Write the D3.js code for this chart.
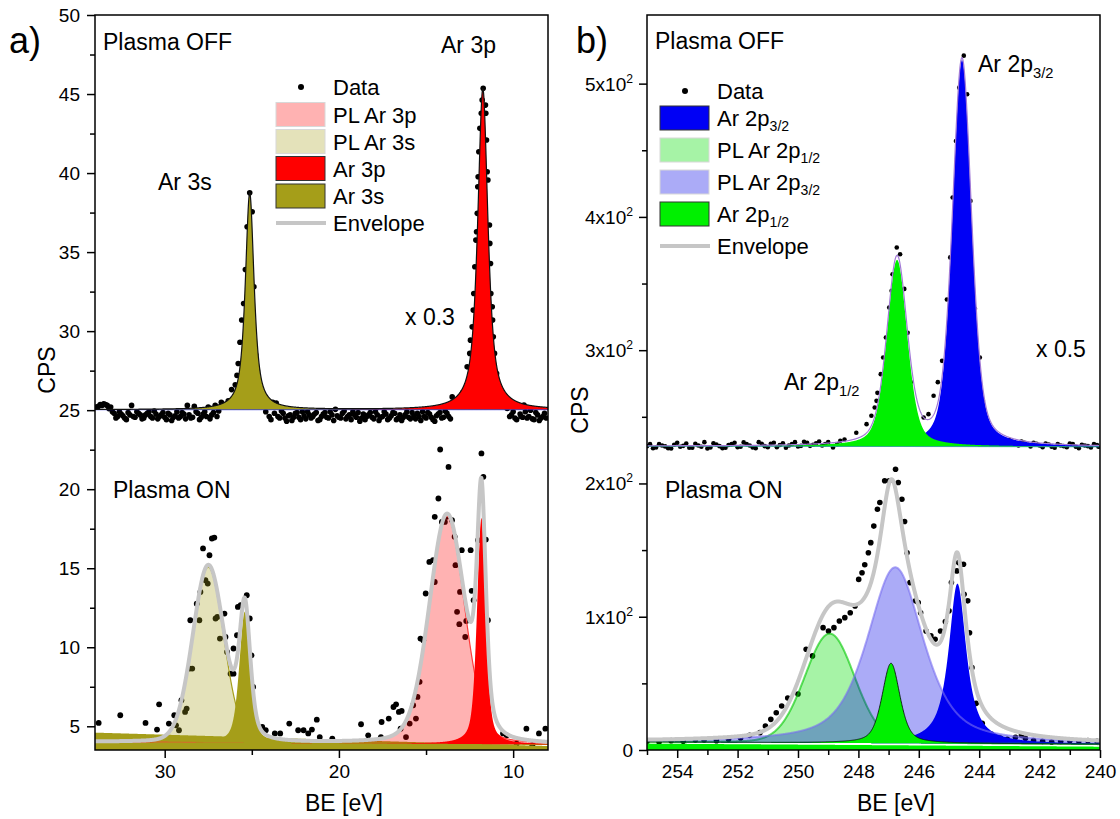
<!DOCTYPE html>
<html lang="en">
<head>
<meta charset="UTF-8">
<title>Ar XPS, plasma off / on</title>
<script src="https://cdnjs.cloudflare.com/ajax/libs/d3/7.8.5/d3.min.js"></script>
<style>
  body { margin: 0; background: #fff; }
  svg { display: block; font-family: Arial, "Liberation Sans", sans-serif; }
</style>
</head>
<body>
<svg id="chart" width="1120" height="819"></svg>
<script>
// ---------- data: [BE (eV), CPS] ----------
const dataA_off = [
  [33.9,25.2],[33.7,25.35],[33.5,25.4],[33.3,25.3],[33.1,25.2],[32.9,24.8],[32.7,24.6],[32.5,24.75],[32.3,24.5],[32.1,24.85],
  [31.9,25.3],[31.7,24.55],[31.5,24.8],[31.3,24.45],[31.1,24.7],[30.9,24.9],[30.7,24.5],[30.5,24.75],[30.3,24.6],[30.1,24.85],
  [29.9,24.4],[29.7,24.7],[29.5,24.55],[29.3,24.9],[29.1,24.6],[28.9,24.75],[28.7,25.3],[28.5,24.5],[28.3,25.25],[28.1,24.8],
  [27.9,24.55],[27.7,24.9],[27.5,25.2],[27.3,24.7],[27.1,25.3],[26.9,24.95],[26.75,25.5],[26.55,25.35],[26.35,25.6],[26.16,26.3],
  [25.95,26.6],[25.85,27.2],[25.78,27.95],[25.68,29.3],[25.58,30.7],[25.47,31.75],[25.37,33.9],[25.27,36.6],[25.12,38.75],[24.98,37.55],
  [24.88,32.8],[24.78,28.5],[24.68,27.5],[24.55,26.1],[24.4,25.4],[24.2,24.9],[24.0,24.6],[23.8,25.5],[23.6,25.45],[23.4,24.5],
  [23.2,24.8],[23.0,24.3],[22.8,24.7],[22.6,24.55],[22.4,24.85],[22.2,24.4],[22.0,24.65],[21.8,24.9],[21.6,24.5],[21.4,24.75],
  [21.2,24.35],[21.0,24.6],[20.8,24.85],[20.6,24.5],[20.4,24.7],[20.2,25.05],[20.0,24.55],[19.8,24.8],[19.6,24.45],[19.4,24.7],
  [19.2,24.9],[19.0,24.55],[18.8,24.3],[18.6,24.75],[18.4,24.6],[18.2,24.85],[18.0,24.45],[17.8,24.7],[17.6,24.55],[17.4,24.9],
  [17.2,24.4],[17.0,24.65],[16.8,24.8],[16.6,24.5],[16.4,24.35],[16.2,24.7],[16.0,24.55],[15.8,24.85],[15.6,24.45],[15.4,24.6],
  [15.2,24.9],[15.0,24.5],[14.8,24.75],[14.6,24.4],[14.4,24.65],[14.2,24.85],[14.0,24.55],[13.8,24.8],[13.5,25.84],[13.3,25.3],
  [13.1,25.6],[12.9,26.1],[12.64,27.74],[12.49,28.59],[12.45,29.43],[12.35,30.27],[12.29,31.33],[12.26,32.38],[12.2,34.07],[12.14,35.76],
  [12.1,36.29],[12.06,37.45],[12.03,39.13],[12.01,39.77],[11.97,41.35],[11.91,42.83],[11.83,43.78],[11.78,44.62],[11.72,45.36],[11.59,44.3],
  [11.57,43.78],[11.53,42.09],[11.49,40.08],[11.45,39.56],[11.36,36.71],[11.34,35.55],[11.3,34.28],[11.28,32.38],[11.2,31.54],[11.18,30.7],
  [11.14,29.64],[11.07,28.59],[10.95,27.32],[10.76,26.06],[10.55,25.4],[10.34,25.11],[10.1,24.7],[9.9,24.5],[9.76,25.32],[9.55,24.6],
  [9.38,25.32],[9.2,24.5],[9.0,25.0],[8.8,24.4],[8.6,24.7],[8.4,24.5],[8.2,24.8],
  [33.8,25.25],[33.6,25.3],[33.4,25.35],[33.2,25.1],[33.0,24.9],[32.8,24.5],[32.6,24.9],[32.4,24.65],[32.2,24.4],[32.0,24.7],
  [31.8,24.6],[31.6,24.9],[31.4,24.7],[31.2,24.5],[31.0,24.8],[30.8,24.6],[30.6,24.95],[30.4,24.45],[30.2,24.7],[30.0,24.55],
  [29.8,24.8],[29.6,24.35],[29.4,24.65],[29.2,24.5],[29.0,24.85],[28.8,24.45],[28.6,24.7],[28.4,24.55],[28.2,24.9],[28.0,24.4],
  [27.8,24.75],[27.6,24.6],[27.4,24.45],[27.2,24.85],[27.0,24.6],[23.9,24.4],[23.7,24.8],[23.5,24.6],[23.3,24.95],[23.1,24.5],
  [22.9,24.65],[22.7,24.35],[22.5,24.8],[22.3,24.55],[22.1,24.9],[21.9,24.45],[21.7,24.7],[21.5,24.6],[21.3,24.85],[21.1,24.4],
  [20.9,24.75],[20.7,24.55],[20.5,24.9],[20.3,24.35],[20.1,24.65],[19.9,24.5],[19.7,24.95],[19.5,24.6],[19.3,24.4],[19.1,24.7],
  [18.9,24.85],[18.7,24.5],[18.5,24.4],[18.3,24.7],[18.1,24.55],[17.9,24.9],[17.7,24.35],[17.5,24.6],[17.3,24.75],[17.1,24.5],
  [16.9,24.85],[16.7,24.4],[16.5,24.7],[16.3,24.55],[16.1,24.9],[15.9,24.45],[15.7,24.65],[15.5,24.8],[15.3,24.35],[15.1,24.6],
  [14.9,24.85],[14.7,24.55],[14.5,24.3],[14.3,24.75],[14.1,24.5],[13.9,24.95],[13.7,24.6],[13.6,24.45],[10.2,24.6],[10.0,24.9],
  [9.8,24.4],[9.6,24.75],[9.45,24.55],[9.3,24.9],[9.1,24.6],[8.9,24.45],[8.7,24.85],[8.5,24.35],[8.3,24.6],[8.1,24.5]
];

const dataA_on = [
  [33.79,5.21],[33.5,4.0],[33.2,3.9],[32.55,5.7],[32.0,3.8],[31.5,4.1],[31.1,5.21],[30.8,3.9],[30.44,4.79],[30.32,6.39],
  [30.0,4.2],[29.76,5.17],[29.45,5.7],[29.35,5.06],[29.18,4.75],[29.04,6.65],[28.83,5.91],[28.74,6.12],[28.57,8.65],[28.42,8.65],
  [28.53,11.71],[28.16,12.76],[28.01,11.71],[27.95,13.5],[27.8,16.25],[27.66,14.24],[27.53,14.03],[27.43,15.82],[27.29,16.88],[27.15,16.94],
  [27.08,11.82],[26.98,11.92],[26.83,10.55],[26.57,12.13],[26.51,10.65],[26.42,9.7],[26.22,8.33],[26.05,8.33],[26.05,9.92],[25.85,10.76],
  [25.8,12.55],[25.64,12.66],[25.29,13.29],[25.12,11.82],[25.02,9.49],[24.92,7.49],[24.86,5.7],[24.77,4.85],[24.4,4.96],[24.2,4.75],
  [23.68,4.55],[23.37,4.55],[22.85,5.17],[22.34,4.75],[22.03,4.75],[21.76,4.55],[21.55,4.79],[21.27,5.42],[21.1,4.32],[20.38,4.22],
  [19.8,3.9],[19.2,4.0],[18.73,5.13],[18.32,4.43],[17.59,4.32],[17.55,5.27],[17.14,5.49],[16.87,6.22],[16.72,6.39],[16.56,5.91],
  [16.46,4.85],[16.4,5.97],[16.15,4.32],[15.94,5.17],[15.74,6.33],[15.58,5.49],[15.49,6.86],[15.37,7.81],[15.32,10.55],[15.16,10.44],
  [15.02,13.4],[14.81,15.4],[14.6,15.51],[14.5,14.13],[14.5,18.25],[14.29,19.41],[14.19,22.51],[14.09,17.93],[13.92,17.93],[13.82,18.25],
  [13.71,21.41],[13.51,18.04],[13.36,16.99],[13.31,15.19],[13.22,12.24],[13.09,11.46],[13.05,13.5],[12.95,16.14],[12.75,10.65],[12.69,11.66],
  [12.44,16.14],[12.38,13.57],[12.27,12.98],[12.02,16.77],[11.82,22.26],[11.71,20.78],[11.57,16.81],[11.45,11.71],[10.58,4.55],[10.37,4.43],
  [9.8,3.9],[9.24,4.85],[8.9,3.8],[8.52,4.55],[8.15,4.85]
];

const dataB_off = [
  [254.9,229.5],[254.7,227.0],[254.5,228.5],[254.3,226.5],[254.1,229.0],[253.9,227.5],[253.7,230.0],[253.5,226.8],[253.3,228.5],[253.1,231.0],
  [252.9,227.0],[252.7,229.2],[252.5,226.5],[252.3,228.8],[252.1,230.5],[251.9,227.5],[251.7,229.5],[251.5,227.0],[251.3,231.0],[251.1,228.0],
  [250.9,229.8],[250.7,227.2],[250.5,230.2],[250.3,228.5],[250.1,231.0],[249.9,228.2],[249.7,230.5],[249.5,229.0],[249.3,231.5],[249.1,229.5],
  [248.84,227],[248.46,233],[248.07,238],[247.73,244.5],[247.57,250.8],[247.46,257],[247.4,262],[247.37,268],[247.26,282],[247.18,294.5],
  [247.09,309.5],[246.98,332],[246.9,344.6],[246.87,357],[246.73,377],[246.62,372],[246.48,346],[246.37,313],[246.27,276],[246.18,257],
  [246.07,247],[245.84,249.5],[245.68,252],[245.51,265.8],[245.37,276],[245.23,292],[245.07,338],[244.96,369.6],[244.88,414.6],[244.77,457],
  [244.66,497],[244.51,521],[244.4,492],[244.29,412],[244.14,331],[243.98,294.5],[243.88,262],[243.78,247],[243.67,239.5],[243.54,234.5],
  [243.4,233],[243.2,231],[243.0,232.5],[242.8,230],[242.6,231.5],[242.4,229],[242.2,230.5],[242.0,228.5],[241.8,230],[241.6,227.5],
  [241.4,229.5],[241.2,228],[241.0,230],[240.8,227.5],[240.6,229],[240.4,228],[240.2,229.5],[240.05,227.5],
  [255.0,228],[254.8,226.5],[254.6,229.5],[254.4,227.8],[254.2,226.2],[254.0,230.5],[253.8,228.2],[253.6,226.8],[253.4,229.8],[253.2,227.5],
  [253.0,226.2],[252.8,230.2],[252.6,228],[252.4,226.8],[252.2,229.5],[252.0,227.2],[251.8,230.8],[251.6,228.5],[251.4,226.5],[251.2,229.8],
  [251.0,227.2],[250.8,230.5],[250.6,228.8],[250.4,226.8],[250.2,229.5],[250.0,227.8],[249.8,231.2],[249.6,228.2],[249.4,230.2],[249.2,228.5],
  [249.0,231],[248.7,229.5],[248.6,232],[243.3,231.5],[243.1,229.8],[242.9,231.2],[242.7,228.5],[242.5,230.5],[242.3,227.8],[242.1,229.8],
  [241.9,227.2],[241.7,229.2],[241.5,226.8],[241.3,228.5],[241.1,227.2],[240.9,229.5],[240.7,226.5],[240.5,228.5],[240.3,227],[240.1,228.8]
];

const dataB_on = [
  [255.0,6.5],[254.6,6.0],[254.2,7.0],[253.8,6.5],[253.4,7.5],[253.11,7.5],[252.7,7.0],[252.3,8.0],[251.9,9.0],[251.6,11],
  [251.26,13],[251.08,18],[250.9,23],[250.72,28],[250.54,33],[250.34,39],[250.0,42],[249.73,75.6],[249.52,70.6],[249.17,91.8],
  [248.99,89.3],[248.81,91.8],[248.63,96.8],[248.45,99.3],[248.27,103],[248.11,108],[247.99,128],[247.88,133],[247.79,139],[247.67,148],
  [247.59,155.6],[247.49,168],[247.37,180.7],[247.29,185.7],[247.13,202],[246.98,202],[246.77,210.7],[246.68,200.7],[246.56,188.2],[246.47,171.4],
  [246.39,148],[246.29,125.6],[246.11,111.9],[246.02,110.6],[245.94,103],[245.76,89.3],[245.6,85.6],[245.46,83.1],[245.28,89.3],[245.12,96.3],
  [245.0,104.4],[244.92,125.6],[244.74,134.4],[244.68,140.6],[244.52,139.4],[244.5,116.9],[244.38,111.9],[244.32,88],[244.24,61.8],[244.1,35],
  [243.9,20],[243.6,12],[243.3,9],[243.07,8],[242.8,9.5],[242.6,11],[242.47,8.8],[242.2,7],[241.9,6.5],[241.6,6],
  [241.3,6.5],[241.0,7],[240.7,6.5],[240.4,7],[240.1,6.5]
];

// fitted components: [label, centre (eV), height (CPS), FWHM (eV), Lorentzian fraction]
const peaksA_off = [["Ar 3p", 11.74, 20.3, 0.7, 0.8], ["Ar 3s", 25.12, 13.7, 0.6, 0.8]];
const peaksA_on = [["PL Ar 3p", 13.8, 14.4, 2.4, 0.2], ["PL Ar 3s", 27.5, 11.1, 2.1, 0.1],
                   ["Ar 3p", 11.82, 14.3, 0.6, 0.5], ["Ar 3s", 25.4, 8.3, 0.75, 0.5]];
const peaksB_off = [["Ar 2p3/2", 244.57, 290, 0.75, 0.4], ["Ar 2p1/2", 246.72, 140, 0.8, 0.4]];
const peaksB_on = [["Ar 2p3/2", 244.72, 120, 0.7, 0.9], ["PL Ar 2p1/2", 248.95, 82, 1.95, 0.1],
                   ["PL Ar 2p3/2", 246.78, 132, 2.2, 0.6], ["Ar 2p1/2", 246.92, 60, 0.7, 0.5]];

// linear backgrounds, value at the left and right end of the BE axis
const bgA_off = [25.03, 25.03];
const bgA_on = [4.0, 3.85];
const bgB_off = [228, 227.5];
const bgB_on = [6.0, 4.3];
// filled band under the plasma-on spectra (left, right)
const bandA_on = [4.6, 3.75];
const bandB_on = [4.8, 2.5];

// axis ticks
const ticksAx = [30, 20, 10], minorAx = [25, 15];
const ticksAy = d3.range(5, 51, 5), minorAy = d3.range(7.5, 50, 5);
const ticksBx = d3.range(254, 239, -2), minorBx = d3.range(255, 240, -2);
const ticksBy = [0, 1, 2, 3, 4, 5], minorBy = d3.range(50, 500, 100);

// ---------- styles ----------
const compStyle = {
  "Ar 3p":       { fill: "#ff0000" },
  "Ar 3s":       { fill: "#a59e19" },
  "PL Ar 3p":    { fill: "rgba(255,0,0,0.3)", stroke: "#ff3b3b", sw: 1.2 },
  "PL Ar 3s":    { fill: "rgba(165,158,25,0.3)", stroke: "#a59e19", sw: 1.2 },
  "Ar 2p3/2":    { fill: "#0000f5" },
  "Ar 2p1/2":    { fill: "#00f000" },
  "PL Ar 2p1/2": { fill: "rgba(0,220,0,0.35)", stroke: "rgba(0,200,0,0.6)", sw: 2 },
  "PL Ar 2p3/2": { fill: "rgba(0,0,230,0.33)", stroke: "rgba(120,110,240,0.6)", sw: 2 }
};
const ENV = "#c6c6c6";

const svg = d3.select("#chart");

function pv(x, p) {
  const r2 = 4 * ((x - p[1]) / p[3]) ** 2;
  return p[2] * (p[4] / (1 + r2) + (1 - p[4]) * Math.exp(-Math.LN2 * r2));
}

// text with an optional trailing sub- or superscript
function richText(g, x, y, parts, size, anchor) {
  const t = g.append("text").attr("x", x).attr("y", y)
    .attr("font-size", size).attr("text-anchor", anchor || "start");
  parts.forEach(p => {
    if (typeof p === "string") { t.append("tspan").text(p); return; }
    t.append("tspan").attr("font-size", size * 0.64)
      .attr("dy", p.sub ? size * 0.24 : -size * 0.42).text(p.t);
  });
  return t;
}

function label(name) {
  // "Ar 2p3/2" -> ["Ar 2p", {t:"3/2", sub:true}]
  const m = name.match(/^(.*2p)(\d\/\d)$/);
  return m ? [m[1], { t: m[2], sub: true }] : [name];
}

function drawPanel(id, x, y, spectra, axes) {
  const g = svg.append("g");
  const [left, right] = x.range(), [bottom, top] = y.range();
  svg.append("clipPath").attr("id", "clip" + id).append("rect")
    .attr("x", left).attr("y", top).attr("width", right - left).attr("height", bottom - top);
  const plot = g.append("g").attr("clip-path", `url(#clip${id})`);
  const lo = Math.min(...x.domain()), hi = Math.max(...x.domain());
  const grid = d3.range(lo, hi + 0.005, 0.01);

  spectra.forEach(s => {
    plot.append("g").selectAll("circle").data(s.data).join("circle")
      .attr("cx", d => x(d[0])).attr("cy", d => y(d[1])).attr("r", s.r).attr("fill", "#000");
  });

  spectra.forEach(s => {
    const bg = d3.scaleLinear().domain(x.domain()).range(s.bg);
    if (s.band) {
      const band = d3.scaleLinear().domain(x.domain()).range(s.band);
      plot.append("path").datum(grid)
        .attr("d", d3.area().x(d => x(d)).y0(bottom).y1(d => y(band(d))))
        .attr("fill", s.bandColor);
    }
    s.peaks.forEach(p => {
      const st = compStyle[p[0]];
      plot.append("path").datum(grid)
        .attr("d", d3.area().x(d => x(d)).y0(d => y(bg(d))).y1(d => y(bg(d) + pv(d, p))))
        .attr("fill", st.fill);
      const edge = st.stroke || (s.outline && s.outline[p[0]]);
      if (edge) {
        plot.append("path").datum(grid)
          .attr("d", d3.line().x(d => x(d)).y(d => y(bg(d) + pv(d, p))))
          .attr("fill", "none").attr("stroke", edge).attr("stroke-width", st.sw || 0.8);
      }
    });
    if (s.bgLine) {
      plot.append("path").datum(grid)
        .attr("d", d3.line().x(d => x(d)).y(d => y(bg(d))))
        .attr("fill", "none").attr("stroke", s.bgLine).attr("stroke-width", 1);
    }
    plot.append("path").datum(grid)
      .attr("d", d3.line().x(d => x(d)).y(d => y(bg(d) + d3.sum(s.peaks, p => pv(d, p)))))
      .attr("fill", "none").attr("stroke", s.env).attr("stroke-width", s.envW)
      .attr("stroke-linejoin", "round");
  });

  // axes
  const ax = g.append("g");
  ax.append("g").attr("transform", `translate(0,${bottom})`)
    .call(d3.axisBottom(x).tickValues(axes.minorX).tickSize(5).tickFormat(""));
  ax.append("g").attr("transform", `translate(0,${bottom})`)
    .call(d3.axisBottom(x).tickValues(axes.majorX).tickSize(8).tickPadding(7).tickFormat(d3.format("d")));
  ax.append("g").attr("transform", `translate(${left},0)`)
    .call(d3.axisLeft(y).tickValues(axes.minorY).tickSize(5).tickFormat(""));
  ax.append("g").attr("transform", `translate(${left},0)`)
    .call(d3.axisLeft(y).tickValues(axes.majorY).tickSize(8).tickPadding(7)
      .tickFormat(axes.sci ? "" : d3.format("d")));
  ax.selectAll(".tick text").filter(function () { return !this.textContent; }).remove();
  ax.selectAll(".tick text").attr("font-size", 19).attr("fill", "#000");
  ax.selectAll("g").attr("font-family", null).attr("font-size", null);
  if (axes.sci) {
    axes.sciVals.forEach(v => {
      const parts = v === 0 ? ["0"] : [v + "x10", { t: "2" }];
      richText(ax, left - 14, y(v * 100) + 7, parts, 19, "end");
    });
  }
  ax.selectAll(".domain").remove();
  ax.selectAll("line").attr("stroke", "#000").attr("stroke-width", 1.5);
  g.append("rect").attr("x", left).attr("y", top).attr("width", right - left).attr("height", bottom - top)
    .attr("fill", "none").attr("stroke", "#000").attr("stroke-width", 1.5);
  return g;
}

// ---------- panel a ----------
const xA = d3.scaleLinear().domain([34, 8]).range([95, 548]);
const yA = d3.scaleLinear().domain([3.5, 50]).range([750, 15]);
drawPanel("A", xA, yA, [
  { data: dataA_off, r: 2.8, peaks: peaksA_off, bg: bgA_off, env: "#111", envW: 1.2, bgLine: "#2233cc" },
  { data: dataA_on, r: 2.9, peaks: peaksA_on, bg: bgA_on, band: bandA_on, bandColor: "#a59e19", env: ENV, envW: 4 }
], { majorX: ticksAx, minorX: minorAx, majorY: ticksAy, minorY: minorAy });

// ---------- panel b ----------
const xB = d3.scaleLinear().domain([255, 240]).range([647, 1100]);
const yB = d3.scaleLinear().domain([0, 551.5]).range([750, 15]);
drawPanel("B", xB, yB, [
  { data: dataB_off, r: 2.3, peaks: peaksB_off, bg: bgB_off, env: "#a27ad6", envW: 1.2, bgLine: "#3aa7a0" },
  { data: dataB_on, r: 2.8, peaks: peaksB_on, bg: bgB_on, band: bandB_on, bandColor: "#00f000", env: ENV, envW: 4,
    outline: { "Ar 2p1/2": "#000" } }
], { majorX: ticksBx, minorX: minorBx, majorY: ticksBy.map(v => v * 100), minorY: minorBy, sci: true, sciVals: ticksBy });

// ---------- titles, annotations ----------
const txt = svg.append("g").attr("fill", "#000");
txt.append("text").attr("x", 9).attr("y", 53).attr("font-size", 36).text("a)");
txt.append("text").attr("x", 576).attr("y", 53).attr("font-size", 36).text("b)");

[["Plasma OFF", 103, 50], ["Ar 3p", 441, 53], ["Ar 3s", 158, 190], ["x 0.3", 405, 325], ["Plasma ON", 113, 498],
 ["Plasma OFF", 655, 49], ["x 0.5", 1036, 357], ["Plasma ON", 665, 498]]
  .forEach(([t, x, y]) => txt.append("text").attr("x", x).attr("y", y).attr("font-size", 23).text(t));
richText(txt, 978, 72, ["Ar 2p", { t: "3/2", sub: true }], 23);
richText(txt, 784, 390, ["Ar 2p", { t: "1/2", sub: true }], 23);

// axis titles
[[55, 370], [588, 410]].forEach(([x, y]) =>
  txt.append("text").attr("transform", `translate(${x},${y}) rotate(-90)`)
    .attr("text-anchor", "middle").attr("font-size", 23).text("CPS"));
[[344, 811], [896, 811]].forEach(([x, y]) =>
  txt.append("text").attr("x", x).attr("y", y).attr("text-anchor", "middle").attr("font-size", 23).text("BE [eV]"));

// ---------- legends ----------
function legend(x0, rows, entries) {
  const lg = svg.append("g");
  entries.forEach((e, i) => {
    const cy = rows[i];
    if (e === "Data") {
      lg.append("circle").attr("cx", x0 + 25).attr("cy", cy).attr("r", 3).attr("fill", "#000");
    } else if (e === "Envelope") {
      lg.append("line").attr("x1", x0).attr("x2", x0 + 50).attr("y1", cy).attr("y2", cy)
        .attr("stroke", ENV).attr("stroke-width", 4);
    } else {
      const st = compStyle[e];
      lg.append("rect").attr("x", x0).attr("y", cy - 12).attr("width", 49).attr("height", 24)
        .attr("fill", st.fill).attr("stroke", st.stroke ? "#d8d8d8" : "#333").attr("stroke-width", 1);
    }
    richText(lg, x0 + 57, cy + 8, label(e), 22);
  });
}
legend(276, [87, 114.5, 141.5, 168.5, 196, 223],
  ["Data", "PL Ar 3p", "PL Ar 3s", "Ar 3p", "Ar 3s", "Envelope"]);
legend(660, [91, 118, 150, 182, 214, 246],
  ["Data", "Ar 2p3/2", "PL Ar 2p1/2", "PL Ar 2p3/2", "Ar 2p1/2", "Envelope"]);
</script>
</body>
</html>
